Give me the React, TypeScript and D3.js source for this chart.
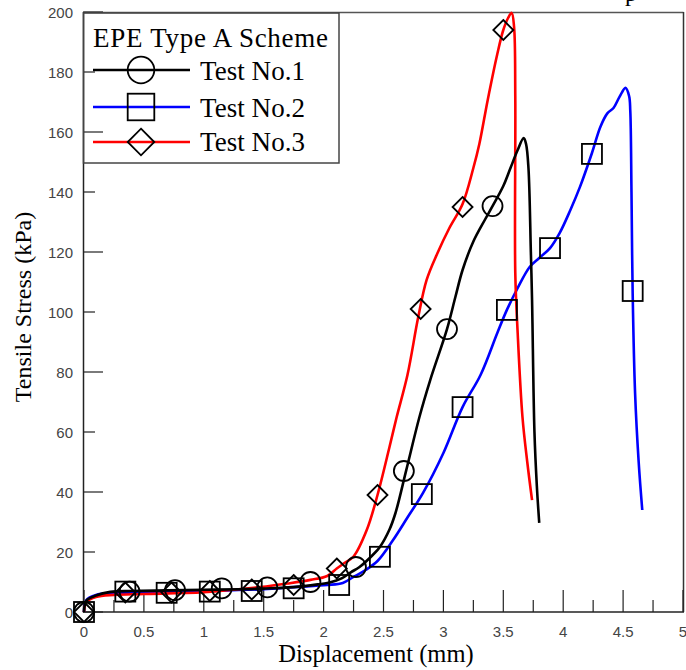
import React from "react";
import * as d3 from "d3";

const W = 686;
const H = 670;

// Test No.1 (black)
const t1X = [0, 0.02, 0.1, 0.22, 0.4, 0.7, 1.0, 1.3, 1.5, 1.75, 1.95, 2.05, 2.15, 2.23, 2.3, 2.41, 2.47, 2.55, 2.6, 2.69, 2.8, 2.89, 3.03, 3.1, 3.16, 3.25, 3.35, 3.41, 3.5, 3.56, 3.62, 3.67, 3.69, 3.71, 3.73, 3.74, 3.76, 3.78, 3.8];
const t1Y = [0, 3.8, 5.5, 6.7, 7.0, 7.2, 7.4, 7.6, 7.8, 8.3, 9.2, 9.8, 11.2, 13.3, 15, 19, 21.7, 27.5, 33, 47.3, 65, 77.3, 94.3, 105, 114, 123.5, 131, 135.3, 142, 148, 154, 158, 156, 148, 120, 104, 60, 42, 29.7];
// Test No.2 (blue)
const t2X = [0, 0.02, 0.1, 0.25, 0.5, 1.0, 1.5, 1.75, 2.03, 2.16, 2.25, 2.35, 2.45, 2.58, 2.7, 2.83, 3.0, 3.16, 3.31, 3.45, 3.53, 3.62, 3.72, 3.8, 3.89, 3.97, 4.06, 4.14, 4.24, 4.31, 4.37, 4.42, 4.47, 4.52, 4.55, 4.56, 4.57, 4.58, 4.6, 4.63, 4.66];
const t2Y = [0, 4, 5.7, 6.3, 6.6, 7.0, 7.6, 8.3, 9.0, 9.7, 11.7, 14, 17, 24, 31.5, 39.7, 53, 68.3, 79, 93, 100.7, 108, 115, 118, 121.3, 126.3, 134, 141.7, 153, 161.7, 166.3, 168, 171.7, 174.7, 172, 167, 140, 106, 73, 50, 34];
// Test No.3 (red)
const t3X = [0, 0.02, 0.1, 0.25, 0.5, 1.0, 1.47, 1.7, 1.89, 2.03, 2.11, 2.18, 2.25, 2.36, 2.45, 2.55, 2.61, 2.7, 2.79, 2.86, 2.95, 3.05, 3.16, 3.25, 3.3, 3.37, 3.45, 3.5, 3.54, 3.57, 3.59, 3.6, 3.6, 3.62, 3.66, 3.7, 3.74];
const t3Y = [0, 3.3, 5.0, 5.7, 6.0, 6.6, 8.3, 9.5, 10.7, 12, 14.5, 16.5, 18.5, 27.3, 39, 55, 65, 79, 98.3, 110.7, 119.6, 128, 136, 148, 156, 170.7, 186, 194, 198, 199.7, 195, 172, 113, 93, 65, 50, 37.3];

// Markers
const m1X = [0, 0.38, 0.76, 1.15, 1.53, 1.89, 2.27, 2.67, 3.03, 3.41];
const m1Y = [0, 6.8, 7.3, 7.9, 8.2, 10, 15, 47, 94.3, 135.3];
const m2X = [0, 0.345, 0.69, 1.05, 1.4, 1.75, 2.13, 2.47, 2.82, 3.16, 3.53, 3.89, 4.24, 4.58];
const m2Y = [0, 6.8, 6.4, 6.8, 7.0, 7.9, 9.0, 18.4, 39.3, 68.3, 100.7, 121.3, 152.7, 107];
const m3X = [0, 0.345, 0.73, 1.05, 1.4, 1.75, 2.11, 2.45, 2.81, 3.16, 3.5];
const m3Y = [0, 6.5, 6.5, 7, 7.5, 9, 14.5, 39, 101, 135, 194];

const xTickLabels = ["0", "0.5", "1", "1.5", "2", "2.5", "3", "3.5", "4", "4.5", "5"];
const yTickLabels = ["0", "20", "40", "60", "80", "100", "120", "140", "160", "180", "200"];

const legendTitle = "EPE Type A Scheme";
const seriesNames = ["Test No.1", "Test No.2", "Test No.3"];
const seriesColors = ["#000000", "#0000ff", "#ff0000"];
const seriesMarkers = ["circle", "square", "diamond"];

const SERIF = "'Liberation Serif', 'Times New Roman', serif";
const SANS = "'Liberation Sans', Arial, sans-serif";

function Marker({ kind, cx, cy, r }: { kind: string; cx: number; cy: number; r: number }) {
  const sw = 1.8;
  if (kind === "circle") return <circle cx={cx} cy={cy} r={r} fill="none" stroke="#000" strokeWidth={sw} />;
  if (kind === "square")
    return <rect x={cx - r} y={cy - r} width={2 * r} height={2 * r} fill="none" stroke="#000" strokeWidth={sw} />;
  return (
    <path
      d={`M${cx},${cy - r}L${cx + r},${cy}L${cx},${cy + r}L${cx - r},${cy}Z`}
      fill="none"
      stroke="#000"
      strokeWidth={sw}
    />
  );
}

export default function App() {
  const x = d3.scaleLinear().domain([0, 5]).range([84, 683]);
  const y = d3.scaleLinear().domain([0, 200]).range([612, 12]);
  const line = d3
    .line<[number, number]>()
    .x((d) => x(d[0]))
    .y((d) => y(d[1]))
    .curve(d3.curveCatmullRom.alpha(0.5));

  const series = [
    { xs: t1X, ys: t1Y, mx: m1X, my: m1Y },
    { xs: t2X, ys: t2Y, mx: m2X, my: m2Y },
    { xs: t3X, ys: t3Y, mx: m3X, my: m3Y },
  ];
  const drawOrder = [1, 2, 0];

  const xMinor = d3.range(0, 5.001, 0.25);
  const yMinor = d3.range(0, 200.001, 20);

  return (
    <svg
      width={W}
      height={H}
      style={{ position: "absolute", left: 0, top: 0, background: "#fff" }}
    >
      <rect x={0} y={0} width={W} height={H} fill="#fff" />
      {/* cropped caption fragment */}
      <text x={625} y={1} fontFamily={SERIF} fontSize={24} fill="#000">
        p
      </text>

      {/* frame */}
      <line x1={84} y1={12.5} x2={683.5} y2={12.5} stroke="#555" strokeWidth={1.5} />
      <line x1={683.5} y1={12} x2={683.5} y2={612} stroke="#333" strokeWidth={1.5} />
      <line x1={83.5} y1={12} x2={83.5} y2={612.5} stroke="#222" strokeWidth={1.5} />
      <line x1={83} y1={612} x2={684} y2={612} stroke="#222" strokeWidth={1.5} />

      {/* x ticks */}
      {xMinor.map((v, i) => {
        const major = i % 2 === 0;
        return (
          <line
            key={"xt" + i}
            x1={x(v)}
            x2={x(v)}
            y1={612}
            y2={612 - (major ? 22 : 12)}
            stroke="#222"
            strokeWidth={1.2}
          />
        );
      })}
      {xTickLabels.map((t, i) => (
        <text
          key={"xl" + i}
          x={x(+t)}
          y={637}
          textAnchor="middle"
          fontFamily={SANS}
          fontSize={15}
          fill="#444"
        >
          {t}
        </text>
      ))}

      {/* y ticks */}
      {yMinor.map((v, i) => {
        const major = i % 2 === 0;
        return (
          <line
            key={"yt" + i}
            x1={83}
            x2={83 + (major ? 20 : 12)}
            y1={y(v)}
            y2={y(v)}
            stroke="#222"
            strokeWidth={1.2}
          />
        );
      })}
      {yTickLabels.map((t, i) => (
        <text
          key={"yl" + i}
          x={73}
          y={y(+t) + 5.5}
          textAnchor="end"
          fontFamily={SANS}
          fontSize={15}
          fill="#444"
        >
          {t}
        </text>
      ))}

      {/* axis titles */}
      <text x={376} y={662} textAnchor="middle" fontFamily={SERIF} fontSize={24.5} fill="#000">
        Displacement (mm)
      </text>
      <text
        transform={`translate(31,307) rotate(-90)`}
        textAnchor="middle"
        fontFamily={SERIF}
        fontSize={24}
        fill="#000"
      >
        Tensile Stress (kPa)
      </text>

      {/* curves */}
      {drawOrder.map((si) => {
        const s = series[si];
        const pts = s.xs.map((v, i) => [v, s.ys[i]] as [number, number]);
        return (
          <path
            key={"c" + si}
            d={line(pts) || ""}
            fill="none"
            stroke={seriesColors[si]}
            strokeWidth={2.6}
            strokeLinejoin="round"
          />
        );
      })}

      {/* markers */}
      {drawOrder.map((si) => {
        const s = series[si];
        return (
          <g key={"m" + si}>
            {s.mx.map((v, i) => (
              <Marker key={i} kind={seriesMarkers[si]} cx={x(v)} cy={y(s.my[i])} r={10} />
            ))}
          </g>
        );
      })}

      {/* legend */}
      <rect x={83.5} y={13} width={255.5} height={150} fill="none" stroke="#444" strokeWidth={1.5} />
      <text x={93} y={47} fontFamily={SERIF} fontSize={27} fill="#000" textLength={235} lengthAdjust="spacing">
        {legendTitle}
      </text>
      {seriesNames.map((n, i) => {
        const ly = [70, 107, 142][i];
        const ty = [80, 117, 151][i];
        return (
          <g key={"lg" + i}>
            <line x1={93} x2={190} y1={ly} y2={ly} stroke={seriesColors[i]} strokeWidth={2.6} />
            <Marker kind={seriesMarkers[i]} cx={141} cy={ly} r={13.3} />
            <text x={200} y={ty} fontFamily={SERIF} fontSize={27} fill="#000" textLength={105} lengthAdjust="spacing">
              {n}
            </text>
          </g>
        );
      })}
    </svg>
  );
}
